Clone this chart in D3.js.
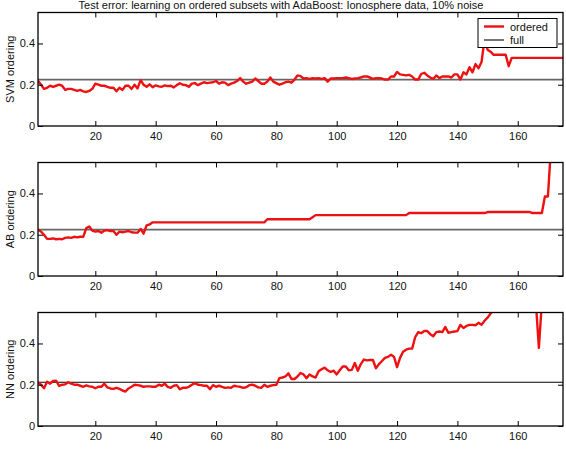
<!DOCTYPE html>
<html>
<head>
<meta charset="utf-8">
<script src="https://cdn.jsdelivr.net/npm/d3@7"></script>
<style>
  body { margin: 0; background: #fff; }
  svg { font-family: "Liberation Sans", Arial, sans-serif; }
  .tick text { font-size: 11px; fill: #111; }
  .tick line { stroke: #000; }
  .domain { display: none; }
</style>
</head>
<body>
<script>
// --------------------------------------------------------------------------------------
// data
// --------------------------------------------------------------------------------------
var chart_title = "Test error: learning on ordered subsets with AdaBoost: Ionosphere data, 10% noise";
var panel_names = ["SVM ordering", "AB ordering", "NN ordering"];
var series_names = ["ordered", "full"];
var x_ticks = [20, 40, 60, 80, 100, 120, 140, 160];
var y_ticks = [0, 0.2, 0.4];
var x_range = [1, 175];
var y_range = [0, 0.55];

// test error of the full training set (one per panel)
var full_error = [0.225, 0.225, 0.212];

// subset size 1..175
var svm_ordered = [
  0.22, 0.20, 0.18, 0.185, 0.195, 0.19, 0.195, 0.20, 0.195, 0.175,
  0.18, 0.18, 0.175, 0.17, 0.175, 0.168, 0.165, 0.17, 0.18, 0.205,
  0.20, 0.195, 0.195, 0.19, 0.185, 0.185, 0.168, 0.185, 0.175, 0.195,
  0.195, 0.18, 0.20, 0.182, 0.222, 0.20, 0.19, 0.202, 0.188, 0.197,
  0.192, 0.19, 0.197, 0.193, 0.195, 0.187, 0.198, 0.207, 0.20, 0.198,
  0.19, 0.205, 0.208, 0.198, 0.205, 0.212, 0.208, 0.21, 0.212, 0.218,
  0.205, 0.212, 0.21, 0.198, 0.205, 0.21, 0.218, 0.232, 0.215, 0.205,
  0.21, 0.215, 0.23, 0.218, 0.205, 0.205, 0.215, 0.235, 0.215, 0.208,
  0.20, 0.205, 0.212, 0.215, 0.21, 0.225, 0.245, 0.242, 0.23, 0.232,
  0.228, 0.232, 0.23, 0.232, 0.228, 0.232, 0.215, 0.23, 0.23, 0.232,
  0.232, 0.232, 0.235, 0.232, 0.228, 0.23, 0.232, 0.235, 0.24, 0.24,
  0.235, 0.228, 0.232, 0.232, 0.23, 0.225, 0.225, 0.24, 0.24, 0.262,
  0.25, 0.248, 0.245, 0.248, 0.24, 0.225, 0.225, 0.252, 0.258, 0.245,
  0.235, 0.228, 0.245, 0.232, 0.24, 0.24, 0.24, 0.235, 0.25, 0.25,
  0.225, 0.26, 0.25, 0.285, 0.26, 0.30, 0.28, 0.31, 0.42, 0.37,
  0.36, 0.345, 0.345, 0.345, 0.345, 0.345, 0.29, 0.33, 0.33, 0.33,
  0.33, 0.33, 0.33, 0.33, 0.33, 0.33, 0.33, 0.33, 0.33, 0.33,
  0.33, 0.33, 0.33, 0.33, 0.33
];

var ab_ordered = [
  0.225, 0.215, 0.20, 0.18, 0.18, 0.182, 0.178, 0.18, 0.178, 0.185,
  0.187, 0.185, 0.19, 0.187, 0.19, 0.19, 0.232, 0.24, 0.22, 0.215,
  0.218, 0.21, 0.22, 0.222, 0.218, 0.218, 0.20, 0.215, 0.212, 0.215,
  0.218, 0.212, 0.21, 0.21, 0.228, 0.205, 0.245, 0.25, 0.26, 0.26,
  0.26, 0.26, 0.26, 0.26, 0.26, 0.26, 0.26, 0.26, 0.26, 0.26,
  0.26, 0.26, 0.26, 0.26, 0.26, 0.26, 0.26, 0.26, 0.26, 0.26,
  0.26, 0.26, 0.26, 0.26, 0.26, 0.26, 0.26, 0.26, 0.26, 0.26,
  0.26, 0.26, 0.26, 0.26, 0.26, 0.26, 0.275, 0.275, 0.275, 0.275,
  0.275, 0.275, 0.275, 0.275, 0.275, 0.275, 0.275, 0.275, 0.275, 0.275,
  0.275, 0.285, 0.295, 0.295, 0.295, 0.295, 0.295, 0.295, 0.295, 0.295,
  0.295, 0.295, 0.295, 0.295, 0.295, 0.295, 0.295, 0.295, 0.295, 0.295,
  0.295, 0.295, 0.295, 0.295, 0.295, 0.295, 0.295, 0.295, 0.295, 0.295,
  0.295, 0.295, 0.295, 0.305, 0.305, 0.305, 0.305, 0.305, 0.305, 0.305,
  0.305, 0.305, 0.305, 0.305, 0.305, 0.305, 0.305, 0.305, 0.305, 0.305,
  0.305, 0.305, 0.305, 0.305, 0.305, 0.305, 0.305, 0.305, 0.305, 0.31,
  0.31, 0.31, 0.31, 0.31, 0.31, 0.31, 0.31, 0.31, 0.31, 0.31,
  0.31, 0.31, 0.31, 0.31, 0.305, 0.305, 0.305, 0.305, 0.385, 0.385,
  0.62, 0.70, 0.72, 0.75, 0.75
];

var nn_ordered = [
  0.212, 0.20, 0.183, 0.215, 0.205, 0.218, 0.22, 0.194, 0.20, 0.202,
  0.212, 0.205, 0.20, 0.20, 0.195, 0.19, 0.197, 0.192, 0.19, 0.183,
  0.19, 0.19, 0.205, 0.187, 0.182, 0.18, 0.185, 0.18, 0.172, 0.167,
  0.182, 0.19, 0.20, 0.198, 0.195, 0.19, 0.192, 0.192, 0.19, 0.19,
  0.20, 0.195, 0.205, 0.19, 0.185, 0.195, 0.198, 0.178, 0.185, 0.185,
  0.19, 0.20, 0.208, 0.20, 0.198, 0.195, 0.195, 0.178, 0.198, 0.19,
  0.195, 0.19, 0.185, 0.187, 0.185, 0.195, 0.192, 0.19, 0.185, 0.188,
  0.198, 0.20, 0.195, 0.187, 0.185, 0.20, 0.19, 0.195, 0.198, 0.20,
  0.232, 0.235, 0.24, 0.255, 0.228, 0.228, 0.24, 0.257, 0.25, 0.232,
  0.25, 0.24, 0.235, 0.265, 0.275, 0.283, 0.27, 0.262, 0.268, 0.25,
  0.27, 0.288, 0.288, 0.27, 0.272, 0.305, 0.268, 0.30, 0.322, 0.318,
  0.32, 0.32, 0.28, 0.30, 0.315, 0.33, 0.335, 0.345, 0.335, 0.285,
  0.33, 0.36, 0.37, 0.375, 0.375, 0.43, 0.455, 0.45, 0.46, 0.46,
  0.445, 0.435, 0.455, 0.458, 0.455, 0.48, 0.452, 0.455, 0.458, 0.46,
  0.49, 0.475, 0.485, 0.49, 0.49, 0.488, 0.50, 0.49, 0.51, 0.525,
  0.545, 0.56, 0.58, 0.58, 0.59, 0.59, 0.60, 0.60, 0.60, 0.60,
  0.60, 0.60, 0.60, 0.60, 0.60, 0.60, 0.378, 0.60, 0.60, 0.60,
  0.60, 0.60, 0.60, 0.60, 0.60
];

var panel_series = [svm_ordered, ab_ordered, nn_ordered];

// --------------------------------------------------------------------------------------
// layout
// --------------------------------------------------------------------------------------
var W = 566, H = 468;
var left = 38, right = 563;
var panel_top = [12.5, 162.5, 312.5];
var panel_h = 113.5;

var svg = d3.select("body").append("svg")
    .attr("width", W)
    .attr("height", H);

var x = d3.scaleLinear().domain(x_range).range([left, right]);

// title, squeezed into the strip above the first panel
svg.append("text")
  .attr("x", 281)
  .attr("y", 9)
  .attr("text-anchor", "middle")
  .style("font-size", "11px")
  .style("fill", "#111")
  .text(chart_title);

// --------------------------------------------------------------------------------------
// draw one panel
// --------------------------------------------------------------------------------------
function draw_panel(i)
{
  var top = panel_top[i];
  var bottom = top + panel_h;
  var y = d3.scaleLinear().domain(y_range).range([bottom, top]);
  var data = panel_series[i];

  var g = svg.append("g");

  g.append("clipPath")
      .attr("id", "clip" + i)
    .append("rect")
      .attr("x", left)
      .attr("y", top)
      .attr("width", right - left)
      .attr("height", panel_h);

  // full training set line
  var last = i == 2;
  g.append("line")
    .attr("x1", left).attr("x2", right)
    .attr("y1", y(full_error[i])).attr("y2", y(full_error[i]))
    .attr("stroke", last ? "#000" : "#666")
    .attr("stroke-width", last ? 1.2 : 1.8);

  // ordered subsets
  var line = d3.line()
    .x(function(d, k) { return x(k + 1); })
    .y(function(d) { return y(d); });

  g.append("path")
    .datum(data)
    .attr("clip-path", "url(#clip" + i + ")")
    .attr("fill", "none")
    .attr("stroke", "#ee1111")
    .attr("stroke-width", 2.4)
    .attr("stroke-linejoin", "round")
    .attr("d", line);

  // axes with inward ticks on all four sides
  g.append("g")
    .attr("transform", "translate(0," + bottom + ")")
    .call(d3.axisBottom(x).tickValues(x_ticks).tickSize(-5).tickPadding(6));

  g.append("g")
    .attr("transform", "translate(0," + top + ")")
    .call(d3.axisTop(x).tickValues(x_ticks).tickSize(-5).tickFormat(""));

  g.append("g")
    .attr("transform", "translate(" + left + ",0)")
    .call(d3.axisLeft(y).tickValues(y_ticks).tickSize(-5).tickPadding(3)
      .tickFormat(function(d) { return d == 0 ? "0" : d3.format(".1f")(d); }));

  g.append("g")
    .attr("transform", "translate(" + right + ",0)")
    .call(d3.axisRight(y).tickValues(y_ticks).tickSize(-5).tickFormat(""));

  // frame
  g.append("rect")
    .attr("x", left).attr("y", top)
    .attr("width", right - left).attr("height", panel_h)
    .attr("fill", "none")
    .attr("stroke", "#000")
    .attr("stroke-width", 1.3);

  // y label
  g.append("text")
    .attr("transform", "translate(14," + (top + panel_h / 2) + ") rotate(-90)")
    .attr("text-anchor", "middle")
    .style("font-size", "11px")
    .style("fill", "#111")
    .text(panel_names[i]);
}

for(var i = 0; i < 3; i++) {
  draw_panel(i);
}

// --------------------------------------------------------------------------------------
// legend on the first panel
// --------------------------------------------------------------------------------------
var lg = svg.append("g").attr("transform", "translate(478,18.5)");

lg.append("rect")
  .attr("width", 79).attr("height", 29)
  .attr("fill", "#fff")
  .attr("stroke", "#000")
  .attr("stroke-width", 1);

var legend_color = ["#ee1111", "#666"];
var legend_width = [2.4, 1.8];

series_names.forEach(function(name, k) {
  var yy = 8 + k * 13.5;
  lg.append("line")
    .attr("x1", 6).attr("x2", 26)
    .attr("y1", yy).attr("y2", yy)
    .attr("stroke", legend_color[k])
    .attr("stroke-width", legend_width[k]);
  lg.append("text")
    .attr("x", 32).attr("y", yy + 4)
    .style("font-size", "11px")
    .style("fill", "#111")
    .text(name);
});
</script>
</body>
</html>
